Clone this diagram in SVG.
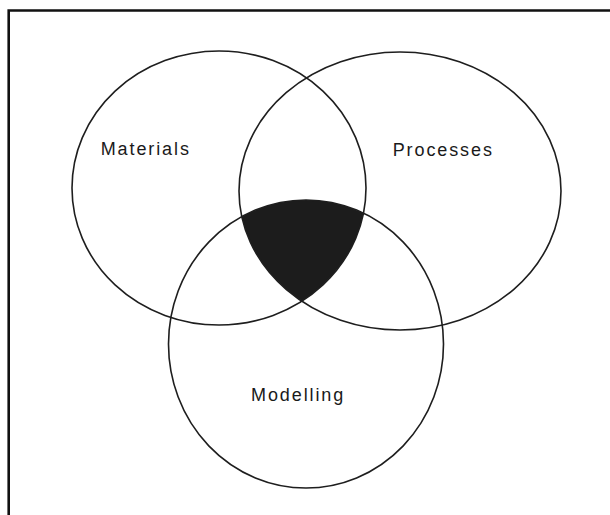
<svg xmlns="http://www.w3.org/2000/svg" width="610" height="515" viewBox="0 0 610 515">
  <style>
    .set { fill: none; stroke: #1e1e1e; stroke-width: 1.6; }
    .label { font-family: "Liberation Sans", Arial, sans-serif; font-size: 18px; letter-spacing: 1.9px; fill: #1a1a1a; }
    .core { fill: #1c1c1c; }
  </style>
  <defs>
    <clipPath id="clipMaterials"><ellipse cx="219" cy="188" rx="147" ry="137"/></clipPath>
    <clipPath id="clipProcesses"><ellipse cx="400" cy="191" rx="161" ry="139"/></clipPath>
  </defs>
  <rect x="0" y="0" width="610" height="515" fill="#ffffff"/>
  <path d="M 8.7 515 V 10.5 H 610" fill="none" stroke="#111" stroke-width="2.6"/>
  <g id="intersection">
    <g clip-path="url(#clipMaterials)">
      <g clip-path="url(#clipProcesses)">
        <ellipse class="core" cx="306" cy="344" rx="137.5" ry="144"/>
      </g>
    </g>
  </g>
  <g id="materials">
    <ellipse class="set" cx="219" cy="188" rx="147" ry="137"/>
    <text class="label" x="100.7" y="155">Materials</text>
  </g>
  <g id="processes">
    <ellipse class="set" cx="400" cy="191" rx="161" ry="139"/>
    <text class="label" x="392.7" y="155.7">Processes</text>
  </g>
  <g id="modelling">
    <ellipse class="set" cx="306" cy="344" rx="137.5" ry="144"/>
    <text class="label" x="251" y="400.7">Modelling</text>
  </g>
  <g id="connectors"/>
</svg>
